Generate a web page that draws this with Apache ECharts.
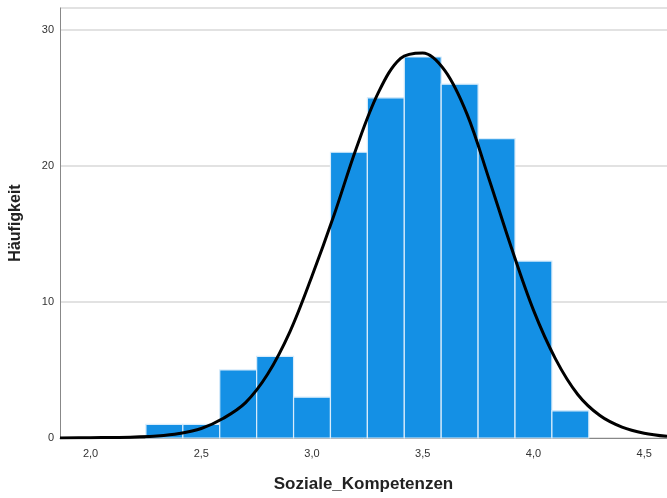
<!DOCTYPE html>
<html>
<head>
<meta charset="utf-8">
<script src="https://cdn.jsdelivr.net/npm/echarts@6/dist/echarts.min.js"></script>
<style>
  html, body { margin: 0; padding: 0; background: #fff; }
  #chart { width: 667px; height: 498px; }
</style>
</head>
<body>
<div id="chart"></div>
<script>
// histogram bins (lower / upper edge) and counts
const binLow = [2.25, 2.4167, 2.5833, 2.75, 2.9167, 3.0833, 3.25, 3.4167, 3.5833, 3.75, 3.9167, 4.0833]
const binHigh = [2.4167, 2.5833, 2.75, 2.9167, 3.0833, 3.25, 3.4167, 3.5833, 3.75, 3.9167, 4.0833, 4.25]
const counts = [1, 1, 5, 6, 3, 21, 25, 28, 26, 22, 13, 2]

// normal curve
const curveX = [1.862, 2.0, 2.1, 2.2, 2.3, 2.4, 2.5, 2.6, 2.7, 2.8, 2.9, 3.0, 3.1, 3.2, 3.3, 3.4, 3.5, 3.6, 3.7, 3.8, 3.9, 4.0, 4.1, 4.2, 4.3, 4.4, 4.5, 4.603]
const curveY = [0.0, 0.02, 0.04, 0.08, 0.15, 0.33, 0.7, 1.45, 2.6, 4.7, 7.8, 11.9, 16.4, 21.3, 25.4, 27.9, 28.3, 27.0, 23.8, 19.0, 14.0, 9.4, 5.8, 3.2, 1.65, 0.8, 0.35, 0.12]

const xTicks = [2.0, 2.5, 3.0, 3.5, 4.0, 4.5]

const bars = counts.map((c, i) => [binLow[i], binHigh[i], c])
const curve = curveX.map((x, i) => [x, curveY[i]])

const chart = echarts.init(document.getElementById('chart'))
chart.setOption({
  animation: false,
  grid: { left: 60, right: 0, top: 8, bottom: 59 },
  xAxis: {
    type: 'value',
    min: 1.862,
    max: 4.603,
    name: 'Soziale_Kompetenzen',
    nameLocation: 'middle',
    nameGap: 38,
    nameTextStyle: { fontFamily: 'Liberation Sans', fontSize: 17, fontWeight: 'bold', color: '#222' },
    axisLine: { lineStyle: { color: '#888', width: 1 } },
    axisTick: { show: false },
    splitLine: { show: false },
    axisLabel: {
      customValues: xTicks,
      margin: 10,
      fontFamily: 'Liberation Sans',
      fontSize: 11,
      color: '#333',
      formatter: v => v.toFixed(1).replace('.', ',')
    }
  },
  yAxis: {
    type: 'value',
    min: 0,
    max: 31.6,
    interval: 10,
    name: 'Häufigkeit',
    nameLocation: 'middle',
    nameGap: 36,
    nameTextStyle: { fontFamily: 'Liberation Sans', fontSize: 16, fontWeight: 'bold', color: '#222' },
    axisLine: { show: true, lineStyle: { color: '#888', width: 1 } },
    axisTick: { show: false },
    splitLine: { lineStyle: { color: '#d9d9d9', width: 1.5 } },
    axisLabel: {
      margin: 6,
      fontFamily: 'Liberation Sans',
      fontSize: 11,
      color: '#333',
      showMaxLabel: false
    }
  },
  series: [
    {
      type: 'custom',
      data: bars,
      renderItem: (params, api) => {
        const p0 = api.coord([api.value(0), api.value(2)])
        const p1 = api.coord([api.value(1), 0])
        return {
          type: 'rect',
          shape: { x: p0[0], y: p0[1], width: p1[0] - p0[0], height: p1[1] - p0[1] },
          style: { fill: '#1490e5', stroke: '#d8ecfb', lineWidth: 1.2 }
        }
      },
      encode: { x: [0, 1], y: 2 }
    },
    {
      type: 'line',
      data: curve,
      smooth: 0.35,
      symbol: 'none',
      lineStyle: { color: '#000', width: 3 },
      z: 5
    }
  ]
})
</script>
</body>
</html>
